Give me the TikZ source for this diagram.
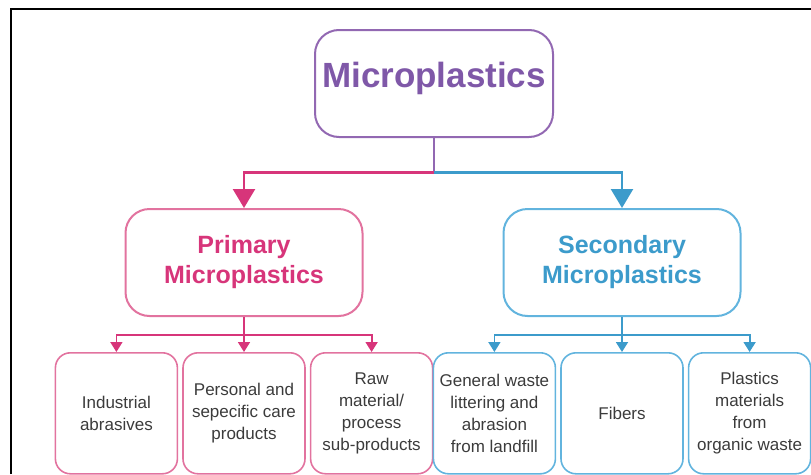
\documentclass[tikz,border=0pt]{standalone}
\usepackage{fontspec}
\setmainfont{Liberation Sans}
\usetikzlibrary{arrows.meta,positioning}
\definecolor{plum}{HTML}{9268B2}
\definecolor{plumtxt}{HTML}{7F58A8}
\definecolor{rose}{HTML}{D7357A}
\definecolor{roseline}{HTML}{E2739F}
\definecolor{sky}{HTML}{3C9BCB}
\definecolor{skyline}{HTML}{62B4DE}
\definecolor{ink}{HTML}{3B3B3B}

\begin{document}
\begin{tikzpicture}[x=1pt,y=1pt,
  rootbox/.style={draw=plum,line width=2pt,rounded corners=24pt,minimum width=238pt,
              minimum height=107pt,text depth=17pt,text=plumtxt,
              font=\fontsize{35}{40}\selectfont\bfseries},
  groupbox/.style={line width=2pt,rounded corners=24pt,minimum width=237pt,
              minimum height=107pt,align=center,font=\fontsize{25}{30}\selectfont\bfseries},
  leafbox/.style={line width=1.6pt,rounded corners=15pt,minimum width=122pt,
              minimum height=121pt,inner sep=0pt,align=center,text=ink,
              font=\fontsize{17}{22}\selectfont},
  bigarr/.style={-{Triangle[width=22pt,length=19pt]},line width=2.4pt},
  smallarr/.style={-{Triangle[width=12pt,length=10pt]},line width=1.8pt},
  node distance=4pt
]
\useasboundingbox (0,0) rectangle (811,-474);
\draw[line width=2pt] (11,-474) |- (811,-9);

\node[rootbox] (root) at (434,-83.5) {Microplastics};
\node[groupbox,draw=roseline,text=rose] (prim) at (244,-262.5) {Primary\\Microplastics};
\node[groupbox,draw=skyline,text=sky] (sec) at (622,-262.5) {Secondary\\Microplastics};

\node[leafbox,draw=roseline,below=35pt of prim] (care) {Personal and\\sepecific care\\products};
\node[leafbox,draw=roseline,left=of care] (abras) {Industrial\\abrasives};
\node[leafbox,draw=roseline,right=of care] (raw) {Raw\\material/\\process\\sub-products};

\node[leafbox,draw=skyline,below=35pt of sec] (fib) {Fibers};
\node[leafbox,draw=skyline,left=of fib] (waste) {General waste\\littering and\\abrasion\\from landfill};
\node[leafbox,draw=skyline,right=of fib] (org) {Plastics\\materials\\from\\organic waste};

\draw[plum,line width=2.4pt] (root.south) -- ++(0,-34.5) coordinate (rj);
\draw[bigarr,rose] (rj) -| (prim.north);
\draw[bigarr,sky] (rj) -| (sec.north);

\draw[rose,line width=1.8pt] (prim.south) -- ++(0,-18) coordinate (pj);
\draw[smallarr,rose] (pj) -| (abras.north);
\draw[smallarr,rose] (pj) -- (care.north);
\draw[smallarr,rose] (pj) -| (raw.north);

\draw[sky,line width=1.8pt] (sec.south) -- ++(0,-18) coordinate (sj);
\draw[smallarr,sky] (sj) -| (waste.north);
\draw[smallarr,sky] (sj) -- (fib.north);
\draw[smallarr,sky] (sj) -| (org.north);
\end{tikzpicture}
\end{document}
